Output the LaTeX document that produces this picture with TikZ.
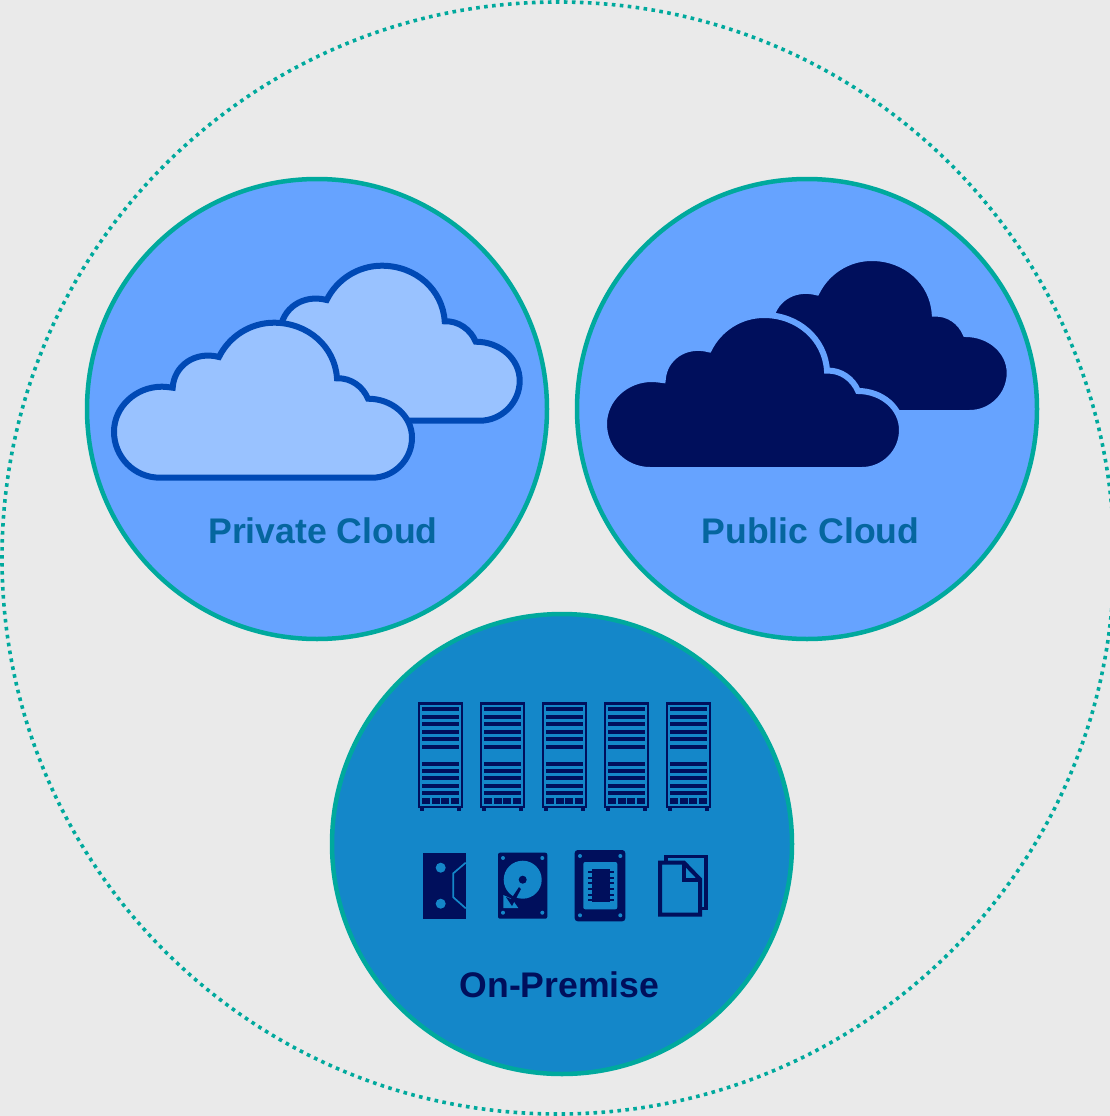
\documentclass[tikz,border=0pt]{standalone}
\usepackage{fontspec}
\setmainfont{Liberation Sans}
\definecolor{bggray}{HTML}{EAEAEA}
\definecolor{tealline}{HTML}{00A99D}
\definecolor{skyblue}{HTML}{66A3FF}
\definecolor{paleblue}{HTML}{99C2FF}
\definecolor{royal}{HTML}{0049B5}
\definecolor{navy}{HTML}{000F5C}
\definecolor{oceanblue}{HTML}{1487C9}
\definecolor{labelblue}{HTML}{05669F}
\tikzstyle{outerring} = [circle, minimum size=1112pt, inner sep=0pt, draw=tealline, line width=3.6pt, dash pattern=on 3.6pt off 4.4pt]
\tikzstyle{zone} = [circle, minimum size=460pt, inner sep=0pt, draw=tealline, line width=4.5pt]
\tikzstyle{zonelabel} = [font=\bfseries\fontsize{35.6}{40}\selectfont, text=labelblue]
\tikzstyle{palecloud} = [fill=paleblue, draw=royal, line width=6pt]
\tikzstyle{darkcloud} = [fill=navy, draw=skyblue, line width=6pt]
\tikzstyle{icon} = [fill=navy, draw=none]
\tikzstyle{hole} = [fill=oceanblue, draw=none]
% cloud outline, from the left end of its flat bottom
\newcommand{\cloudpath}{
  (0,0) -- (212,0)
  .. controls (234,0) and (252,-18) .. (252,-40)
  .. controls (252,-62) and (232,-79) .. (208,-79)
  .. controls (203,-91) and (191,-100) .. (177,-99.4)
  .. controls (175,-131) and (148,-155) .. (114,-155)
  .. controls (90,-155) and (69,-141) .. (59,-120.7)
  .. controls (35,-127) and (14,-112) .. (12.7,-90)
  .. controls (9,-90.5) and (5,-91) .. (1.7,-91)
  .. controls (-24,-91) and (-46,-71) .. (-46,-46)
  .. controls (-46,-21) and (-26,0) .. (0,0)
  -- cycle}
\begin{document}
\begin{tikzpicture}[x=1pt,y=-1pt]
\useasboundingbox (0,0) rectangle (1110,1116);
\fill [bggray] (0,0) rectangle (1110,1116);
\node (ring) [outerring] at (558,558) {};

\node (private) [zone, fill=skyblue] at (317,409) {};
\node (public) [zone, fill=skyblue] at (807,409) {};
\node (premise) [zone, fill=oceanblue] at (562,844) {};

\draw [palecloud, shift={(267.7pt,-420.7pt)}] \cloudpath;
\draw [palecloud, shift={(160pt,-477.7pt)}] \cloudpath;
\draw [darkcloud, shift={(757.7pt,-413pt)}] \cloudpath;
\draw [darkcloud, shift={(650pt,-470pt)}] \cloudpath;

\node (privatelabel) [zonelabel] at (323,531) {Private Cloud};
\node (publiclabel) [zonelabel] at (810.5,531) {Public Cloud};
\node (premiselabel) [zonelabel, text=navy] at (559.5,985) {On-Premise};

% server racks
\foreach \x in {0,62,124,186,248} {
  \begin{scope}[xshift=\x pt]
  \draw [navy, line width=2.6pt] (419,703.2) rectangle (462,807);
  \fill [navy] (420,807) rectangle (424,810.5);
  \fill [navy] (457.3,807) rectangle (461.3,810.5);
  \foreach \y in {709,717,724,732,739,747,764,771,778,786,793}
    \fill [navy] (422,\y-2) rectangle (459.3,\y+2);
  \foreach \a/\b in {422/430,432.3/440,441.3/449.3,451.3/459.3}
    \fill [navy] (\a,798) rectangle (\b,804);
  \end{scope}
}

% tape
\fill [icon] (422.7,852.7) rectangle (465.7,918.7);
\fill [hole] (440.7,867.7) circle (5);
\fill [hole] (440.7,903.7) circle (5);
\draw [oceanblue, line width=1.7pt] (465.7,862.7) -- (453.3,873.3) -- (453.3,897.3) -- (465.7,908.3);

% hard disk
\fill [icon, rounded corners=2pt] (498,852.7) rectangle (547.3,918.7);
\foreach \x/\y in {503/858,542.3/858,503/912.7,542.3/912.7}
  \fill [hole] (\x,\y) circle (2);
\fill [hole] (522.7,879.7) circle (19);
\fill [icon] (522.7,879.7) circle (4);
\fill [hole] (503.3,895) -- (503.3,908) -- (518.3,908) -- (512,899) -- cycle;
\fill [icon] (519,887) -- (521,889) -- (512,906) -- (506,897) -- (511,899) -- cycle;

% solid state disk
\fill [icon, rounded corners=3pt] (574.7,850) rectangle (625.3,921.3);
\foreach \x/\y in {580/856,620.3/856,580/915.3,620.3/915.3}
  \fill [hole] (\x,\y) circle (2);
\fill [hole, rounded corners=2pt] (583.3,862) rectangle (617.3,909.3);
\fill [icon] (592,869.3) rectangle (610,902);
\foreach \y in {872,877.7,883.4,889.1,894.8,900}
  \fill [icon] (588,\y-1) rectangle (614,\y+1);

% files
\draw [navy, line width=3.5pt] (666,856.7) -- (706,856.7) -- (706,908.7) -- (666,908.7) -- cycle;
\draw [navy, fill=oceanblue, line width=4pt] (660,862.7) -- (684,862.7) -- (700,879.3) -- (700,914.7) -- (660,914.7) -- cycle;
\draw [navy, line width=3.5pt] (684,862.7) -- (684,880) -- (700,880);
\end{tikzpicture}
\end{document}
